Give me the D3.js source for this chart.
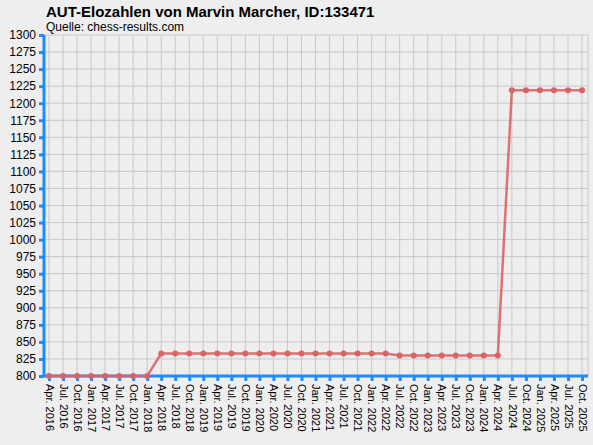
<!DOCTYPE html>
<html><head><meta charset="utf-8">
<script src="https://cdn.jsdelivr.net/npm/d3@7"></script>
<style>body{margin:0;background:#eeeeee}</style>
</head><body>
<svg id="chart" width="593" height="445"></svg>
<script>
var months = ["Jan.", "Apr.", "Jul.", "Oct."];
var labels = [];
for (var y = 2016; y <= 2025; y++) {
  for (var q = 0; q < 4; q++) {
    if (y === 2016 && q === 0) continue;
    labels.push(months[q] + " " + y);
  }
}
var elo = [800, 800, 800, 800, 800, 800, 800, 800,
  833, 833, 833, 833, 833, 833, 833, 833, 833, 833, 833, 833, 833, 833, 833, 833, 833,
  830, 830, 830, 830, 830, 830, 830, 830,
  1219, 1219, 1219, 1219, 1219, 1219];
var yTicks = d3.range(800, 1301, 25);

var svg = d3.select("#chart");
svg.append("rect").attr("width", 593).attr("height", 445).attr("fill", "#eeeeee");

var x = d3.scalePoint().domain(labels).range([49, 582]);
var yS = d3.scaleLinear().domain([800, 1300]).range([376, 35]);

var g = svg.append("g");
g.selectAll(".hg").data(yTicks).enter().append("line")
  .attr("x1", 44).attr("x2", 588)
  .attr("y1", d => yS(d)).attr("y2", d => yS(d))
  .attr("stroke", "#c8c8c8");
g.selectAll(".vg").data(labels).enter().append("line")
  .attr("x1", d => x(d)).attr("x2", d => x(d))
  .attr("y1", 35).attr("y2", 376)
  .attr("stroke", "#c8c8c8");
g.append("line").attr("x1", 588).attr("x2", 588).attr("y1", 35).attr("y2", 376).attr("stroke", "#c8c8c8");

var yAxis = svg.append("g").attr("transform", "translate(44,0)")
  .call(d3.axisLeft(yS).tickValues(yTicks).tickFormat(d3.format("d")).tickSize(5).tickPadding(3));
yAxis.selectAll("text").attr("font-family", "Liberation Sans, Arial").attr("font-size", 12).attr("fill", "#000");

var xAxis = svg.append("g").attr("transform", "translate(0,376)")
  .call(d3.axisBottom(x).tickSize(5).tickPadding(4));
xAxis.selectAll("text")
  .attr("font-family", "Liberation Sans, Arial").attr("font-size", 11).attr("fill", "#000")
  .attr("transform", "rotate(90)").attr("text-anchor", "start")
  .attr("x", 8).attr("y", 0).attr("dy", "0.35em");
svg.selectAll(".domain").attr("stroke", "#1e8cff").attr("stroke-width", 3);
svg.selectAll(".tick line").attr("stroke", "#1e8cff").attr("stroke-width", 3);
xAxis.select(".domain").attr("d", "M44,0H588");
yAxis.select(".domain").attr("d", "M0,35V376");

var line = d3.line().x((d, i) => x(labels[i])).y(d => yS(d));
svg.append("path").datum(elo).attr("d", line)
  .attr("fill", "none").attr("stroke", "#d96464").attr("stroke-width", 2.5).attr("stroke-opacity", 0.9);
svg.selectAll(".pt").data(elo).enter().append("circle")
  .attr("cx", (d, i) => x(labels[i])).attr("cy", d => yS(d)).attr("r", 3)
  .attr("fill", "#d96464");

svg.append("text").attr("x", 46).attr("y", 17)
  .attr("font-family", "Liberation Sans, Arial").attr("font-weight", "bold").attr("font-size", 15)
  .text("AUT-Elozahlen von Marvin Marcher, ID:133471");
svg.append("text").attr("x", 46).attr("y", 31)
  .attr("font-family", "Liberation Sans, Arial").attr("font-size", 12)
  .text("Quelle: chess-results.com");
</script>
</body></html>
